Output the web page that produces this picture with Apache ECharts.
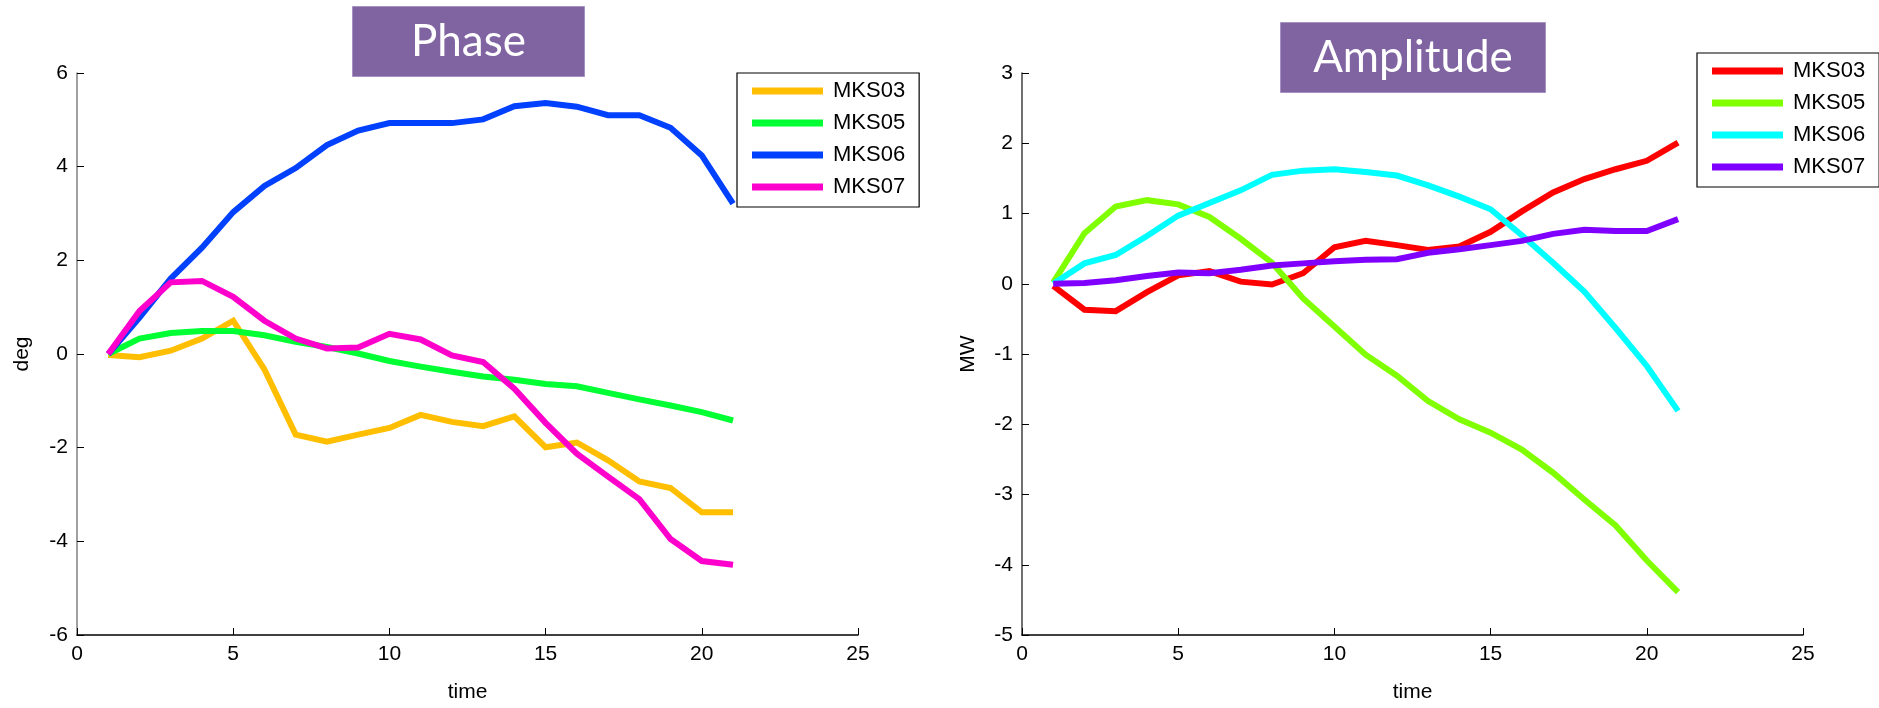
<!DOCTYPE html>
<html>
<head>
<meta charset="utf-8">
<script src="https://cdn.jsdelivr.net/npm/echarts@6/dist/echarts.min.js"></script>
<style>html,body{margin:0;padding:0;background:#fff}#c{width:1879px;height:708px}</style>
</head>
<body>
<div id="c"></div>
<script>
const time = [1,2,3,4,5,6,7,8,9,10,11,12,13,14,15,16,17,18,19,20,21];
const seriesNames = ['MKS03','MKS05','MKS06','MKS07'];

const phaseMKS03 = [-0.02,-0.07,0.07,0.33,0.71,-0.33,-1.72,-1.87,-1.72,-1.58,-1.30,-1.45,-1.54,-1.33,-1.99,-1.89,-2.27,-2.72,-2.86,-3.38,-3.38];
const phaseMKS05 = [0,0.33,0.45,0.49,0.49,0.40,0.26,0.15,0.01,-0.15,-0.27,-0.38,-0.48,-0.55,-0.64,-0.69,-0.83,-0.97,-1.10,-1.24,-1.42];
const phaseMKS06 = [0,0.78,1.61,2.27,3.03,3.59,3.97,4.46,4.77,4.93,4.93,4.93,5.01,5.29,5.36,5.28,5.10,5.10,4.83,4.24,3.21];
const phaseMKS07 = [0,0.92,1.53,1.56,1.22,0.71,0.33,0.12,0.14,0.43,0.31,-0.03,-0.17,-0.74,-1.47,-2.13,-2.62,-3.10,-3.95,-4.42,-4.50];

const ampMKS03 = [-0.03,-0.37,-0.39,-0.12,0.12,0.18,0.03,-0.01,0.15,0.52,0.61,0.55,0.48,0.53,0.74,1.03,1.30,1.49,1.63,1.75,2.01];
const ampMKS05 = [0.02,0.72,1.10,1.19,1.13,0.95,0.64,0.30,-0.21,-0.61,-1.01,-1.31,-1.67,-1.93,-2.12,-2.36,-2.69,-3.07,-3.44,-3.94,-4.39];
const ampMKS06 = [0,0.29,0.41,0.68,0.97,1.15,1.33,1.55,1.61,1.63,1.59,1.54,1.40,1.24,1.06,0.69,0.30,-0.11,-0.63,-1.17,-1.81];
const ampMKS07 = [0,0.01,0.05,0.11,0.16,0.15,0.20,0.26,0.29,0.32,0.34,0.35,0.44,0.49,0.55,0.61,0.71,0.77,0.75,0.75,0.92];

const phaseTicks = {min:-6, max:6, interval:2};
const ampTicks = {min:-5, max:3, interval:1};
const timeTicks = {min:0, max:25, interval:5};

const phaseColors = ['#FFBF00','#00FF33','#0040FF','#FF00CC'];
const ampColors = ['#FF0000','#80FF00','#00FFFF','#8000FF'];

const FONT = "'Liberation Sans', Arial, sans-serif";
const pairs = arr => time.map((t,i)=>[t,arr[i]]);

function mkSeries(list, colors, idx, suffix){
  return list.map((arr,i)=>({
    name: seriesNames[i] + suffix, type:'line', xAxisIndex:idx, yAxisIndex:idx,
    data: pairs(arr), symbol:'none', smooth:false,
    lineStyle:{width:6, color:colors[i], cap:'butt', join:'miter'},
    itemStyle:{color:colors[i]}, emphasis:{disabled:true}, animation:false
  }));
}

function xAx(idx){
  return {type:'value', gridIndex:idx, min:timeTicks.min, max:timeTicks.max, interval:timeTicks.interval,
    name:'time', nameLocation:'middle', nameGap:47, nameTextStyle:{fontFamily:FONT, fontSize:21, color:'#000'},
    axisLine:{show:true, onZero:false, lineStyle:{color:'#000', width:1.5}},
    axisTick:{show:true, inside:true, length:7, lineStyle:{color:'#000', width:1}},
    axisLabel:{fontFamily:FONT, fontSize:21, color:'#000', margin:9},
    splitLine:{show:false}};
}
function yAx(idx, ticks, name, lineColor, gap){
  return {type:'value', gridIndex:idx, min:ticks.min, max:ticks.max, interval:ticks.interval,
    name:name, nameLocation:'middle', nameRotate:90, nameGap:gap,
    nameTextStyle:{fontFamily:FONT, fontSize:21, color:'#000'},
    axisLine:{show:true, onZero:false, lineStyle:{color:lineColor, width:1.5}},
    axisTick:{show:true, inside:true, length:7, lineStyle:{color:'#000', width:1}},
    axisLabel:{fontFamily:FONT, fontSize:21, color:'#000', margin:9},
    splitLine:{show:false}};
}
function legend(left, top, suffix){
  return {orient:'vertical', left:left, top:top, data:seriesNames.map(n=>({name:n+suffix})),
    formatter: n => n.trim(),
    icon:'rect', itemWidth:71, itemHeight:7, itemGap:8,
    backgroundColor:'#fff', borderColor:'#000', borderWidth:1.2, borderRadius:0,
    padding:[6,14,8,15],
    textStyle:{fontFamily:FONT, fontSize:22, color:'#000', lineHeight:24, padding:[0,0,0,5]},
    selectedMode:false};
}

function titleBox(text, left, top, w, h){
  return {type:'rect', left:left, top:top, z:10,
    shape:{width:w, height:h},
    style:{fill:'#8064A2', stroke:'#A591C2', lineWidth:1},
    textContent:{style:{text:text, fill:'#fff', font:"44px Lato, 'Open Sans', sans-serif"}, z:11},
    textConfig:{position:'inside'}};
}

const chart = echarts.init(document.getElementById('c'), null, {renderer:'canvas'});
const s0 = mkSeries([phaseMKS03,phaseMKS05,phaseMKS06,phaseMKS07], phaseColors, 0, '');
const s1 = mkSeries([ampMKS03,ampMKS05,ampMKS06,ampMKS07], ampColors, 1, ' ');

chart.setOption({
  animation:false,
  backgroundColor:'#fff',
  grid:[
    {left:77, top:73, width:781, height:576},
    {left:1022, top:73, width:781, height:577}
  ],
  xAxis:[xAx(0), xAx(1)],
  yAxis:[yAx(0, phaseTicks, 'deg', '#808080', 44), yAx(1, ampTicks, 'MW', '#404040', 43)],
  legend:[legend(737, 73, ''), legend(1697, 53, ' ')],
  series: s0.concat(s1),
  graphic:[
    titleBox('Phase', 352, 6, 232, 70),
    titleBox('Amplitude', 1280, 22, 265, 70)
  ]
});
</script>
</body>
</html>
